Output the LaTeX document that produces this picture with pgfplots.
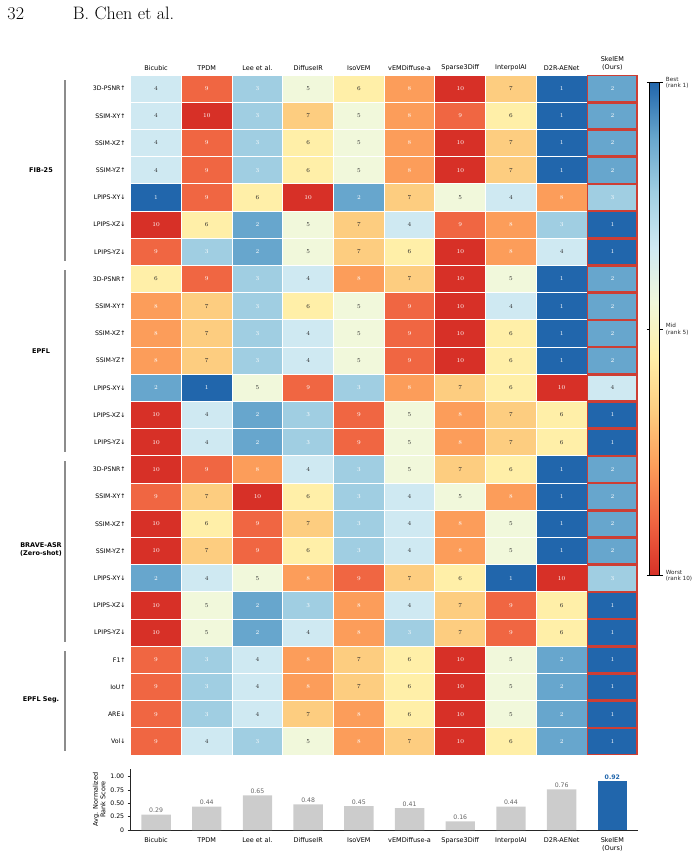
\documentclass[border=0pt]{standalone}
\usepackage{fontspec}
\usepackage{pgfplots}
\usepackage{pgfplotstable}
\pgfplotsset{compat=1.18}
\newfontfamily\djv{DejaVu Sans}
\definecolor{dtxt}{RGB}{40,40,40}
\definecolor{redo}{RGB}{205,62,52}
\definecolor{barg}{RGB}{204,204,204}
\definecolor{bblue}{RGB}{33,102,172}
\definecolor{bracketg}{RGB}{140,140,140}
\pgfdeclareplotmark{cell}{\pgfpathrectangle{\pgfpoint{-25.35pt}{-13.6pt}}{\pgfpoint{50.7pt}{27.2pt}}\pgfusepathqfillstroke}
\pgfdeclareplotmark{cellred}{\pgfpathrectangle{\pgfpoint{-24.7pt}{-12.95pt}}{\pgfpoint{49.4pt}{25.9pt}}\pgfusepathqstroke}
\pgfdeclareplotmark{nothing}{}
% ranks: rows = metrics, m0..m9 = methods
\pgfplotstableread{
row m0 m1 m2 m3 m4 m5 m6 m7 m8 m9
0  4  9  3  5  6  8  10 7  1  2
1  4  10 3  7  5  8  9  6  1  2
2  4  9  3  6  5  8  10 7  1  2
3  4  9  3  6  5  8  10 7  1  2
4  1  9  6  10 2  7  5  4  8  3
5  10 6  2  5  7  4  9  8  3  1
6  9  3  2  5  7  6  10 8  4  1
7  6  9  3  4  8  7  10 5  1  2
8  8  7  3  6  5  9  10 4  1  2
9  8  7  3  4  5  9  10 6  1  2
10 8  7  3  4  5  9  10 6  1  2
11 2  1  5  9  3  8  7  6  10 4
12 10 4  2  3  9  5  8  7  6  1
13 10 4  2  3  9  5  8  7  6  1
14 10 9  8  4  3  5  7  6  1  2
15 9  7  10 6  3  4  5  8  1  2
16 10 6  9  7  3  4  8  5  1  2
17 10 7  9  6  3  4  8  5  1  2
18 2  4  5  8  9  7  6  1  10 3
19 10 5  2  3  8  4  7  9  6  1
20 10 5  2  4  8  3  7  9  6  1
21 9  3  4  8  7  6  10 5  2  1
22 9  3  4  8  7  6  10 5  2  1
23 9  3  4  7  8  6  10 5  2  1
24 9  4  3  5  8  7  10 6  2  1
}\ranks
\pgfplotsset{
  celltext/.style={only marks, mark=nothing, point meta=explicit,
    nodes near coords={\pgfmathprintnumber{\pgfplotspointmeta}},
    every node near coord/.append style={anchor=center, inner sep=0pt, text=#1,
      font=\djv\bfseries\fontsize{6}{7}\selectfont}},
}
\begin{document}
\begin{tikzpicture}
\useasboundingbox (0,0) rectangle (698pt,-855pt);
\begin{scope}[every node/.style={anchor=base west, inner sep=0pt, font=\fontsize{18}{20}\selectfont}]
\node at (7.3pt,-19.3pt) {32};
\node at (72.7pt,-19.3pt) {B. Chen et al.};
\end{scope}

\begin{axis}[
  at={(130.7pt,-75pt)}, anchor=north west,
  scale only axis, width=507pt, height=680pt,
  xmin=-0.5, xmax=9.5, ymin=-0.5, ymax=24.5, y dir=reverse,
  axis line style={draw=none},
  major tick length=0pt,
  xtick={0,...,9}, xticklabel pos=upper,
  xticklabels={Bicubic,TPDM,Lee et al.,DiffuseIR,IsoVEM,vEMDiffuse-a,Sparse3Diff,InterpolAI,D2R-AENet,{SkelEM\\(Ours)}},
  xticklabel style={font=\djv\fontsize{6.5}{8.5}\selectfont, align=center, yshift=1pt},
  ytick={0,...,24},
  yticklabels={3D-PSNR↑,SSIM-XY↑,SSIM-XZ↑,SSIM-YZ↑,LPIPS-XY↓,LPIPS-XZ↓,LPIPS-YZ↓,
               3D-PSNR↑,SSIM-XY↑,SSIM-XZ↑,SSIM-YZ↑,LPIPS-XY↓,LPIPS-XZ↓,LPIPS-YZ↓,
               3D-PSNR↑,SSIM-XY↑,SSIM-XZ↑,SSIM-YZ↑,LPIPS-XY↓,LPIPS-XZ↓,LPIPS-YZ↓,
               F1↑,IoU↑,ARE↓,Vol↓},
  yticklabel style={font=\djv\fontsize{6.2}{7}\selectfont, xshift=-1.5pt},
  point meta min=1, point meta max=10,
  colormap={rankmap}{rgb255=(33,102,172) rgb255=(103,166,205) rgb255=(160,206,226) rgb255=(207,233,242) rgb255=(241,248,219) rgb255=(255,239,168) rgb255=(253,205,128) rgb255=(252,157,90) rgb255=(240,102,66) rgb255=(215,48,39)},
  colorbar,
  colorbar style={
    at={(parent axis.north east)}, anchor=north west,
    xshift=3.6pt, yshift=-7.7pt,
    scale only axis, width=10pt, height=493pt,
    y dir=reverse,
    ytick={1,5.5,10},
    yticklabels={{Best\\(rank 1)},{Mid\\(rank 5)},{Worst\\(rank 10)}},
    yticklabel style={font=\djv\fontsize{5.7}{6.3}\selectfont, align=left, text=dtxt, xshift=-0.5pt},
    major tick length=3pt, tick align=outside,
    tick style={black, line width=0.6pt},
    axis line style={black, line width=0.8pt},
  },
  clip=false,
]
\pgfplotsinvokeforeach{0,...,9}{
  \addplot[scatter, only marks, mark=cell, line width=0.9pt,
    scatter/use mapped color={draw=white, fill=mapped color},
    point meta=explicit]
    table[x expr=#1, y=row, meta=m#1] {\ranks};
}
\draw[black!75, line width=1pt] (axis cs:9.5,-0.5) -- (axis cs:-0.5,-0.5) -- (axis cs:-0.5,24.5) -- (axis cs:9.5,24.5);
\draw[black!40, line width=0.8pt, dash pattern=on 2pt off 1.5pt] (axis cs:-0.5,6.5) -- (axis cs:9.5,6.5);
\draw[black!40, line width=0.8pt, dash pattern=on 2pt off 1.5pt] (axis cs:-0.5,13.5) -- (axis cs:9.5,13.5);
\draw[black!40, line width=0.8pt, dash pattern=on 2pt off 1.5pt] (axis cs:-0.5,20.5) -- (axis cs:9.5,20.5);
\addplot[only marks, mark=cellred, draw=redo, line width=1.3pt] table[x expr=9, y=row] {\ranks};
\pgfplotsinvokeforeach{0,...,9}{
  \addplot[celltext=white, restrict expr to domain={\thisrow{m#1}}{0.5:3.5}]
    table[x expr=#1, y=row, meta=m#1] {\ranks};
  \addplot[celltext=white, restrict expr to domain={\thisrow{m#1}}{7.5:10.5}]
    table[x expr=#1, y=row, meta=m#1] {\ranks};
  \addplot[celltext=dtxt, restrict expr to domain={\thisrow{m#1}}{3.5:7.5}]
    table[x expr=#1, y=row, meta=m#1] {\ranks};
}
\end{axis}

% group brackets and labels
\draw[bracketg, line width=1.2pt] (65pt,-80pt) -- (65pt,-261pt);
\draw[bracketg, line width=1.2pt] (65pt,-270pt) -- (65pt,-452pt);
\draw[bracketg, line width=1.2pt] (65pt,-461pt) -- (65pt,-642pt);
\draw[bracketg, line width=1.2pt] (65pt,-651pt) -- (65pt,-751pt);
\node[font=\djv\bfseries\fontsize{6.5}{8}\selectfont, align=center] at (41pt,-170pt) {FIB-25};
\node[font=\djv\bfseries\fontsize{6.5}{8}\selectfont, align=center] at (41pt,-351pt) {EPFL};
\node[font=\djv\bfseries\fontsize{6.5}{8}\selectfont, align=center] at (41pt,-550pt) {BRAVE-ASR\\(Zero-shot)};
\node[font=\djv\bfseries\fontsize{6.5}{8}\selectfont, align=center] at (41pt,-700pt) {EPFL Seg.};

\begin{axis}[
  at={(130.7pt,-830pt)}, anchor=south west,
  scale only axis, width=507pt, height=61.3pt,
  xmin=-0.5, xmax=9.5, ymin=0, ymax=1.15,
  ybar,
  axis x line=bottom, axis y line=left,
  axis line style={-, line width=0.9pt, black!85},
  xtick={0,...,9},
  xticklabels={Bicubic,TPDM,Lee et al.,DiffuseIR,IsoVEM,vEMDiffuse-a,Sparse3Diff,InterpolAI,D2R-AENet,{SkelEM\\(Ours)}},
  xticklabel style={font=\djv\fontsize{6.5}{8.5}\selectfont, align=center, yshift=-1pt},
  x tick style={draw=none},
  ytick={0,0.25,0.5,0.75,1},
  yticklabels={0,0.25,0.50,0.75,1.00},
  yticklabel style={font=\djv\fontsize{6.2}{7}\selectfont},
  y tick style={black!85, line width=0.6pt},
  tick align=outside, major tick length=3pt,
  ylabel={Avg. Normalized\\Rank Score},
  ylabel style={align=center, font=\djv\fontsize{6.5}{7.5}\selectfont, yshift=-2pt},
  /pgf/number format/assume math mode=true,
  clip=false,
]
\addplot[bar shift=0pt, bar width=29.4pt, fill=barg, draw=none,
  nodes near coords={\pgfmathprintnumber[fixed,fixed zerofill,precision=2]{\pgfplotspointmeta}},
  every node near coord/.append style={font=\djv\fontsize{6.2}{7}\selectfont, text=black!60, inner sep=1.5pt}]
  coordinates {(0,0.29) (1,0.44) (2,0.65) (3,0.48) (4,0.45) (5,0.41) (6,0.16) (7,0.44) (8,0.76)};
\addplot[bar shift=0pt, bar width=29.4pt, fill=bblue, draw=none,
  nodes near coords={\pgfmathprintnumber[fixed,fixed zerofill,precision=2]{\pgfplotspointmeta}},
  every node near coord/.append style={font=\djv\bfseries\fontsize{6.2}{7}\selectfont, text=bblue, inner sep=1.5pt}]
  coordinates {(9,0.92)};
\end{axis}
\end{tikzpicture}
\end{document}
